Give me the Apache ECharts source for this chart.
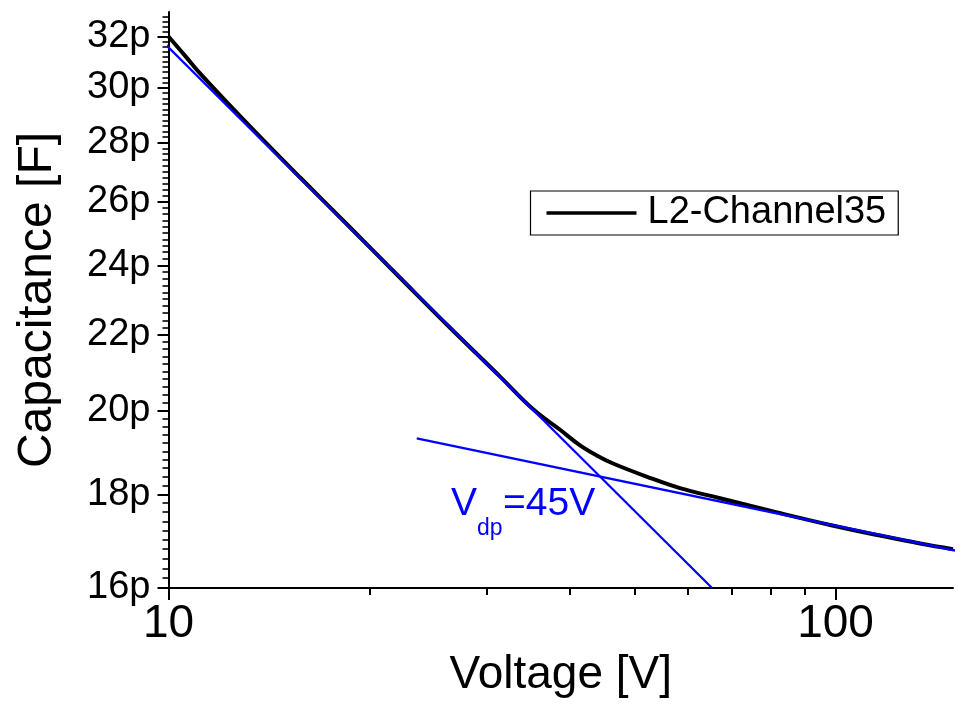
<!DOCTYPE html>
<html>
<head>
<meta charset="utf-8">
<script src="https://cdn.jsdelivr.net/npm/echarts@6/dist/echarts.min.js"></script>
<style>
  html, body { margin: 0; padding: 0; background: #ffffff; }
  #chart { width: 969px; height: 711px; }
</style>
</head>
<body>
<div id="chart"></div>
<script>
// C-V measurement, bias voltage [V] and capacitance [pF]
const voltage = [10.0, 10.6, 11.15, 12.36, 13.72, 15.74, 18.72, 22.24, 26.43, 31.41, 35.21,
                 38.64, 41.40, 43.85, 46.39, 52.18, 58.45, 67.12, 81.45, 98.12, 116.6, 133.9, 150.0];
const capacitance = [32.0, 31.22, 30.55, 29.35, 28.21, 26.81, 25.17, 23.63, 22.19, 20.87, 20.03,
                     19.52, 19.14, 18.90, 18.71, 18.40, 18.14, 17.91, 17.60, 17.32, 17.09, 16.92, 16.80];

// Linear fits (log-log) below and above full depletion
const fitLowV = [9.79, 65.3];
const fitLowC = [31.81, 16.0];
const fitHighV = [23.56, 158.5];
const fitHighC = [19.31, 16.71];

// Axis ticks
const xMajorTicks = [10, 100];
const xMinorTicks = [20, 30, 40, 50, 60, 70, 80, 90];
const yMajorTicks = [16, 18, 20, 22, 24, 26, 28, 30, 32];
const yMinorTicks = [];
for (let i = 1; i < 85; i++) {
  const v = Math.round((16 + i * 0.2) * 10) / 10;
  if (i % 10 !== 0) yMinorTicks.push(v);
}

const seriesName = 'L2-Channel35';
const depletionLabel = { main: 'V', sub: 'dp', tail: '=45V' };

const FONT = 'Liberation Sans, Arial, Helvetica, sans-serif';
const BLUE = '#0000ff';

const chart = echarts.init(document.getElementById('chart'), null, { renderer: 'canvas' });

const xRange = { min: 10, max: 150 };
const yRange = { min: 16, max: 33 };

const baseAxis = {
  type: 'log',
  logBase: 10,
  splitLine: { show: false },
  minorTick: { show: false },
  minorSplitLine: { show: false }
};

const option = {
  backgroundColor: '#ffffff',
  animation: false,
  textStyle: { fontFamily: FONT },
  grid: { left: 168.5, right: 16, top: 12, bottom: 123, containLabel: false },
  legend: {
    data: [seriesName],
    left: 530.5,
    top: 191,
    orient: 'vertical',
    icon: 'rect',
    itemWidth: 90,
    itemHeight: 3.5,
    padding: [3, 12, 3, 16],
    borderColor: '#000000',
    borderWidth: 1.2,
    backgroundColor: '#ffffff',
    textStyle: { fontFamily: FONT, fontSize: 38, color: '#000000', padding: [0, 0, 0, 6] }
  },
  xAxis: [
    Object.assign({}, baseAxis, {
      min: xRange.min, max: xRange.max,
      position: 'bottom',
      name: 'Voltage [V]',
      nameLocation: 'middle',
      nameGap: 60,
      nameTextStyle: { fontFamily: FONT, fontSize: 46, color: '#000000' },
      axisLine: { show: true, onZero: false, lineStyle: { color: '#000000', width: 2 } },
      axisTick: { show: true, inside: false, length: 12, lineStyle: { color: '#000000', width: 2 }, customValues: xMajorTicks },
      axisLabel: { show: true, margin: 13, fontFamily: FONT, fontSize: 46, color: '#000000', customValues: xMajorTicks,
                   formatter: v => String(Math.round(v)) }
    }),
    Object.assign({}, baseAxis, {
      min: xRange.min, max: xRange.max,
      position: 'bottom',
      axisLine: { show: false, onZero: false },
      axisTick: { show: true, inside: false, length: 7, lineStyle: { color: '#000000', width: 2 }, customValues: xMinorTicks },
      axisLabel: { show: false }
    })
  ],
  yAxis: [
    Object.assign({}, baseAxis, {
      min: yRange.min, max: yRange.max,
      position: 'left',
      name: 'Capacitance [F]',
      nameLocation: 'middle',
      nameGap: 107,
      nameTextStyle: { fontFamily: FONT, fontSize: 48, color: '#000000' },
      axisLine: { show: true, onZero: false, lineStyle: { color: '#000000', width: 2 } },
      axisTick: { show: true, inside: false, length: 11, lineStyle: { color: '#000000', width: 2 }, customValues: yMajorTicks },
      axisLabel: { show: true, margin: 18, fontFamily: FONT, fontSize: 38, color: '#000000', customValues: yMajorTicks,
                   formatter: v => Math.round(v) + 'p' }
    }),
    Object.assign({}, baseAxis, {
      min: yRange.min, max: yRange.max,
      position: 'left',
      axisLine: { show: false, onZero: false },
      axisTick: { show: true, inside: false, length: 6, lineStyle: { color: '#000000', width: 1.6 }, customValues: yMinorTicks },
      axisLabel: { show: false }
    })
  ],
  series: [
    {
      name: seriesName,
      type: 'line',
      xAxisIndex: 0, yAxisIndex: 0,
      data: voltage.map((v, i) => [v, capacitance[i]]),
      showSymbol: false,
      smooth: 0.4,
      lineStyle: { color: '#000000', width: 4 },
      itemStyle: { color: '#000000' },
      z: 2
    },
    {
      name: 'fit-low',
      type: 'line',
      xAxisIndex: 0, yAxisIndex: 0,
      data: fitLowV.map((v, i) => [v, fitLowC[i]]),
      showSymbol: false,
      clip: false,
      lineStyle: { color: BLUE, width: 2.2 },
      itemStyle: { color: BLUE },
      z: 3
    },
    {
      name: 'fit-high',
      type: 'line',
      xAxisIndex: 0, yAxisIndex: 0,
      data: fitHighV.map((v, i) => [v, fitHighC[i]]),
      showSymbol: false,
      clip: false,
      lineStyle: { color: BLUE, width: 2.4 },
      itemStyle: { color: BLUE },
      z: 3
    }
  ],
  graphic: [
    { type: 'text', left: 451, top: 485, style: { text: depletionLabel.main, fontFamily: FONT, fontSize: 39, fill: BLUE } },
    { type: 'text', left: 477, top: 517, style: { text: depletionLabel.sub, fontFamily: FONT, fontSize: 23, fill: BLUE } },
    { type: 'text', left: 503, top: 485, style: { text: depletionLabel.tail, fontFamily: FONT, fontSize: 39, fill: BLUE } }
  ]
};

chart.setOption(option);
</script>
</body>
</html>
